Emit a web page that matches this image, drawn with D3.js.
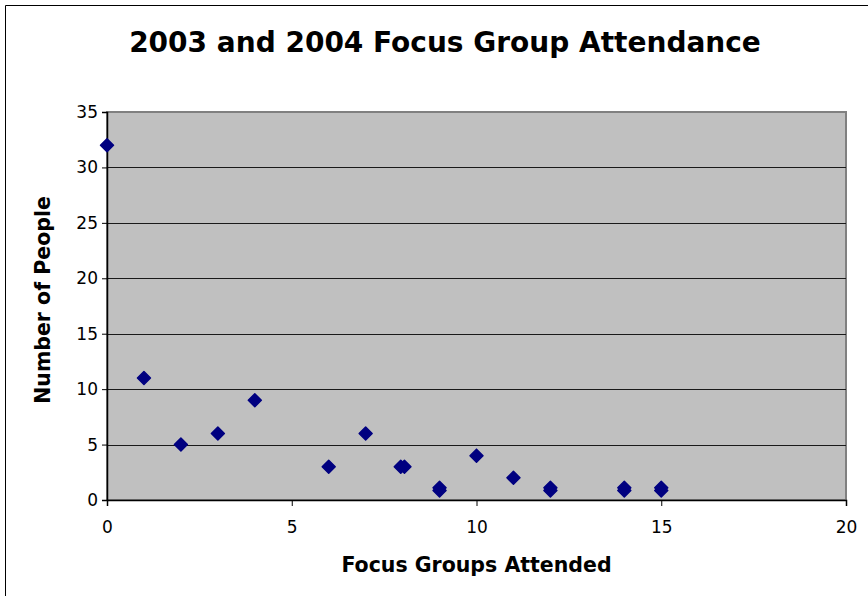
<!DOCTYPE html>
<html>
<head>
<meta charset="utf-8">
<script src="https://cdn.jsdelivr.net/npm/d3@7"></script>
<style>
  body { margin: 0; background: white; }
  text { font-family: "DejaVu Sans", Verdana, sans-serif; }
</style>
</head>
<body>
<div id="plot"></div>
<script>
// data
var attended = [0, 1, 2, 3, 4, 6, 7, 7.95, 8.05, 9, 9, 10, 11, 12, 12, 14, 14, 15, 15];
var people   = [32, 11, 5, 6, 9, 3, 6, 3, 3, 0.85, 1.1, 4, 2, 0.85, 1.1, 0.85, 1.1, 0.85, 1.1];
var xTicks = [0, 5, 10, 15, 20];
var yTicks = [0, 5, 10, 15, 20, 25, 30, 35];

var w = 868;
var h = 596;
var margin = {top: 112, right: 22, bottom: 96, left: 107};
var innerWidth = w - margin.left - margin.right;
var innerHeight = h - margin.top - margin.bottom;

var xScale = d3.scaleLinear()
    .domain([0, 20])
    .range([0, innerWidth]);

var yScale = d3.scaleLinear()
    .domain([0, 35])
    .range([innerHeight, 0]);

var svg = d3.select("div#plot")
  .append("svg")
    .attr("width", w)
    .attr("height", h);

// outer frame: only left and top edges fall inside the picture
svg.append("path")
    .attr("d", `M5.5,${h} V5.5 H${w}`)
    .attr("fill", "none")
    .attr("stroke", "black");

var g = svg.append("g")
    .attr("transform", `translate(${margin.left}, ${margin.top})`);

// plot area
g.append("rect")
    .attr("width", innerWidth)
    .attr("height", innerHeight)
    .attr("fill", "#c0c0c0")
    .attr("stroke", "#808080")
    .attr("stroke-width", 2);

// gridlines
g.selectAll("line.grid")
    .data(yTicks.filter(d => d > 0 && d < 35))
  .enter().append("line")
    .attr("class", "grid")
    .attr("x1", 0)
    .attr("x2", innerWidth)
    .attr("y1", d => Math.round(yScale(d)) + 0.5)
    .attr("y2", d => Math.round(yScale(d)) + 0.5)
    .attr("stroke", "#1a1a1a");

// axes
var xAxis = d3.axisBottom(xScale)
    .tickValues(xTicks)
    .tickSize(6)
    .tickPadding(15);

var yAxis = d3.axisLeft(yScale)
    .tickValues(yTicks)
    .tickSize(5)
    .tickPadding(4);

var gx = g.append("g")
    .attr("transform", `translate(0, ${innerHeight})`)
    .call(xAxis);

var gy = g.append("g")
    .call(yAxis);

[gx, gy].forEach(a => {
  a.selectAll("path").attr("stroke", "black").attr("stroke-width", 1.5);
  a.selectAll("line").attr("stroke", "black");
  a.selectAll("text")
      .attr("font-family", "DejaVu Sans, Verdana, sans-serif")
      .attr("font-size", "17px")
      .attr("fill", "black");
});

// markers
g.selectAll("path.pt")
    .data(attended)
  .enter().append("path")
    .attr("class", "pt")
    .attr("transform", (d, i) => `translate(${xScale(d)}, ${yScale(people[i])})`)
    .attr("d", "M0,-6.5 L6.5,0 L0,6.5 L-6.5,0 Z")
    .attr("fill", "#000080")
    .attr("stroke", "#000080")
    .attr("stroke-linejoin", "round")
    .attr("stroke-width", 1.5);

// titles
svg.append("text")
    .attr("x", 445)
    .attr("y", 52)
    .attr("text-anchor", "middle")
    .attr("font-size", "28px")
    .attr("font-weight", "bold")
    .text("2003 and 2004 Focus Group Attendance");

svg.append("text")
    .attr("x", margin.left + innerWidth / 2)
    .attr("y", 572)
    .attr("text-anchor", "middle")
    .attr("font-size", "20.5px")
    .attr("font-weight", "bold")
    .text("Focus Groups Attended");

svg.append("text")
    .attr("transform", "translate(50, 300) rotate(-90)")
    .attr("text-anchor", "middle")
    .attr("font-size", "20.5px")
    .attr("font-weight", "bold")
    .text("Number of People");
</script>
</body>
</html>
